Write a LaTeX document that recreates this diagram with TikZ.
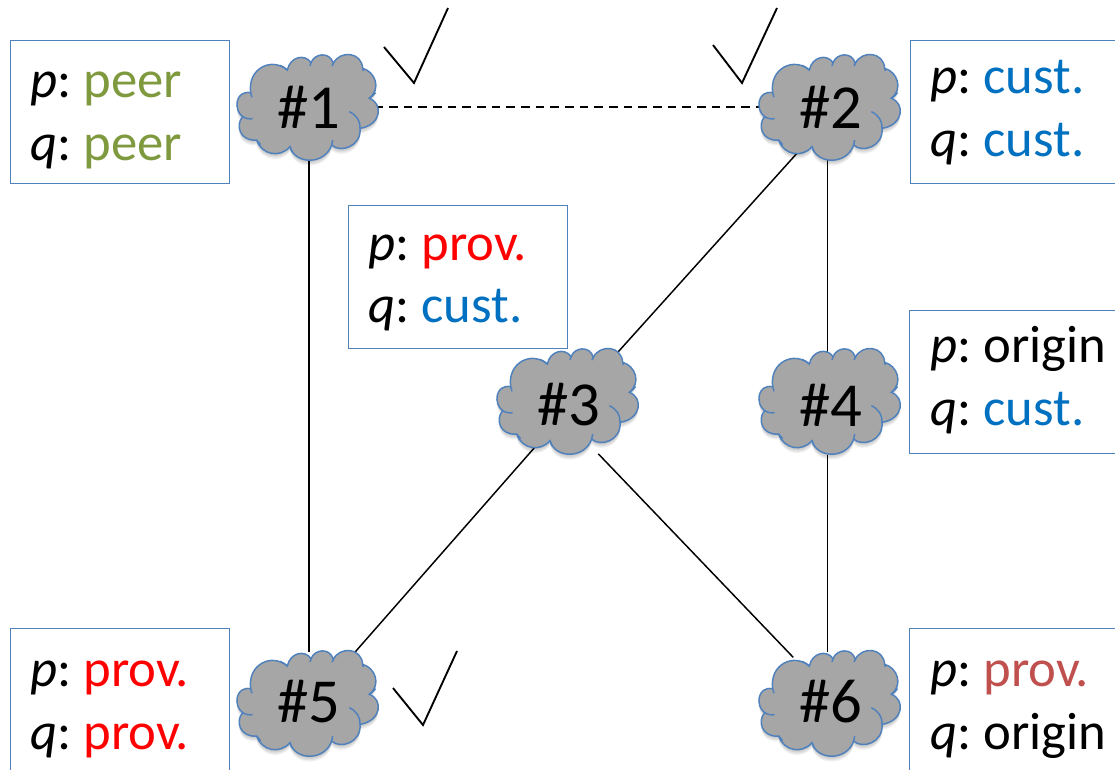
\documentclass[tikz,border=0pt]{standalone}
\usepackage{fontspec}
\setmainfont{Carlito}
\usetikzlibrary{shapes.geometric}
\definecolor{boxblue}{HTML}{4F81BD}
\definecolor{peergreen}{HTML}{7F9A3E}
\definecolor{custblue}{HTML}{0070C0}
\definecolor{provred}{HTML}{FF0000}
\definecolor{darkred}{HTML}{C0504D}
\definecolor{cloudgray}{HTML}{A6A6A6}
\pgfdeclarelayer{bg}
\pgfsetlayers{bg,main}
\newcommand{\tightspace}{\spaceskip=0.156em\relax}
\def\cloudpath{(62,278) .. controls (52,205) and (125,170) .. (172,210)
 .. controls (180,170) and (225,160) .. (243,188)
 .. controls (255,158) and (300,155) .. (310,190)
 .. controls (330,150) and (395,155) .. (398,205)
 .. controls (435,215) and (455,265) .. (418,295)
 .. controls (460,310) and (455,375) .. (390,385)
 .. controls (395,440) and (330,460) .. (305,435)
 .. controls (285,495) and (195,495) .. (180,440)
 .. controls (150,475) and (95,465) .. (80,420)
 .. controls (30,425) and (15,375) .. (38,350)
 .. controls (10,330) and (15,270) .. (62,278) -- cycle}
\newcommand{\cloudat}[2]{%
 \begin{scope}[shift={(#1-79,#2-108)},x=0.25pt,y=-0.25pt]
  \foreach \s in {16,12,8,4}{\fill[black,opacity=0.06,shift={(0,\s)}] \cloudpath;}
  \draw[cloudline,fill=cloudgray] \cloudpath;
  \draw[cloudline] (358,335) .. controls (380,345) and (392,365) .. (390,385);
  \draw[cloudline] (418,295) .. controls (425,290) and (432,285) .. (437,278);
  \draw[cloudline] (398,205) -- (400,213);
  \draw[cloudline] (310,190) -- (306,198);
  \draw[cloudline] (243,188) -- (240,198);
  \draw[cloudline] (172,210) .. controls (165,204) and (158,199) .. (150,196);
  \draw[cloudline] (62,278) -- (66,292);
  \draw[cloudline] (38,350) .. controls (46,355) and (58,358) .. (68,356);
  \draw[cloudline] (80,420) -- (92,434);
  \draw[cloudline] (180,440) -- (186,456);
  \draw[cloudline] (305,435) -- (308,420);
 \end{scope}}
\tikzset{x=0.75pt,y=-0.75pt,
 cloudline/.style={draw=boxblue,line width=1.1pt},
 infobox/.style={draw=boxblue,line width=1.1pt,fill=white,rectangle,inner sep=0pt,minimum width=164.25pt,minimum height=107.25pt,anchor=north west},
 infotext/.style={anchor=base west,inner sep=0pt,font=\fontsize{39.5}{39.5}\selectfont\tightspace},
 asnode/.style={ellipse,inner sep=0pt,minimum width=97.5pt,minimum height=75pt,font=\fontsize{47}{47}\selectfont},
 link/.style={black,line width=1.1pt},
 tick/.style={black,line width=1.4pt,line join=miter}}
\begin{document}
\begin{tikzpicture}
\useasboundingbox (0,0) rectangle (1115,769);
\clip (0,0) rectangle (1115,769);
% boxes
\node[infobox] (b1) at (10,40) {};
\node[infobox] (b2) at (910,40) {};
\node[infobox] (b3) at (348,205) {};
\node[infobox] (b4) at (909,310) {};
\node[infobox] (b5) at (10,628) {};
\node[infobox] (b6) at (909,628) {};
% box text
\node[infotext] (t1p) at (30,97) {\textit{p}: \textcolor{peergreen}{peer}};
\node[infotext] (t1q) at (30,160) {\textit{q}: \textcolor{peergreen}{peer}};
\node[infotext] (t2p) at (930,93) {\textit{p}: \textcolor{custblue}{cust.}};
\node[infotext] (t2q) at (930,156) {\textit{q}: \textcolor{custblue}{cust.}};
\node[infotext] (t3p) at (368,260) {\textit{p}: \textcolor{provred}{prov.}};
\node[infotext] (t3q) at (368,322) {\textit{q}: \textcolor{custblue}{cust.}};
\node[infotext] (t4p) at (930,362) {\textit{p}: origin};
\node[infotext] (t4q) at (930,425) {\textit{q}: \textcolor{custblue}{cust.}};
\node[infotext] (t5p) at (30,686) {\textit{p}: \textcolor{provred}{prov.}};
\node[infotext] (t5q) at (30,749) {\textit{q}: \textcolor{provred}{prov.}};
\node[infotext] (t6p) at (930,686) {\textit{p}: \textcolor{darkred}{prov.}};
\node[infotext] (t6q) at (930,749) {\textit{q}: origin};
% clouds
\cloudat{309}{108}
\cloudat{831}{108}
\cloudat{569}{402}
\cloudat{831}{402}
\cloudat{309}{704}
\cloudat{831}{704}
\node[asnode] (c1) at (309,107) {\#1};
\node[asnode] (c2) at (831,107) {\#2};
\node[asnode] (c3) at (569,405) {\#3};
\node[asnode] (c4) at (831,405) {\#4};
\node[asnode] (c5) at (309,702) {\#5};
\node[asnode] (c6) at (831,702) {\#6};
% connectors
\begin{pgfonlayer}{bg}
\fill[white] (0,0) rectangle (1115,769);
\draw[link,dash pattern=on 6.5pt off 4.5pt] (c1.east) -- (c2.west);
\draw[link] (c1.south) -- (c5.north);
\draw[link] (c2.-126.9) -- (c3.47.2);
\draw[link] (c2.-94.6) -- (c4.94.6);
\draw[link] (c4.-94.6) -- (c6.94.6);
\draw[link] (c3.-129) -- (c5.47.4);
\draw[link,shorten <=3pt,shorten >=2.5pt] (c3.-60.8) -- (c6.130.2);
\end{pgfonlayer}
\draw[tick] (384,47) -- (414,83) -- (448,8);
\draw[tick] (713,45) -- (742,83) -- (777,8);
\draw[tick] (393,688) -- (423,725) -- (457,651);
\end{tikzpicture}
\end{document}
